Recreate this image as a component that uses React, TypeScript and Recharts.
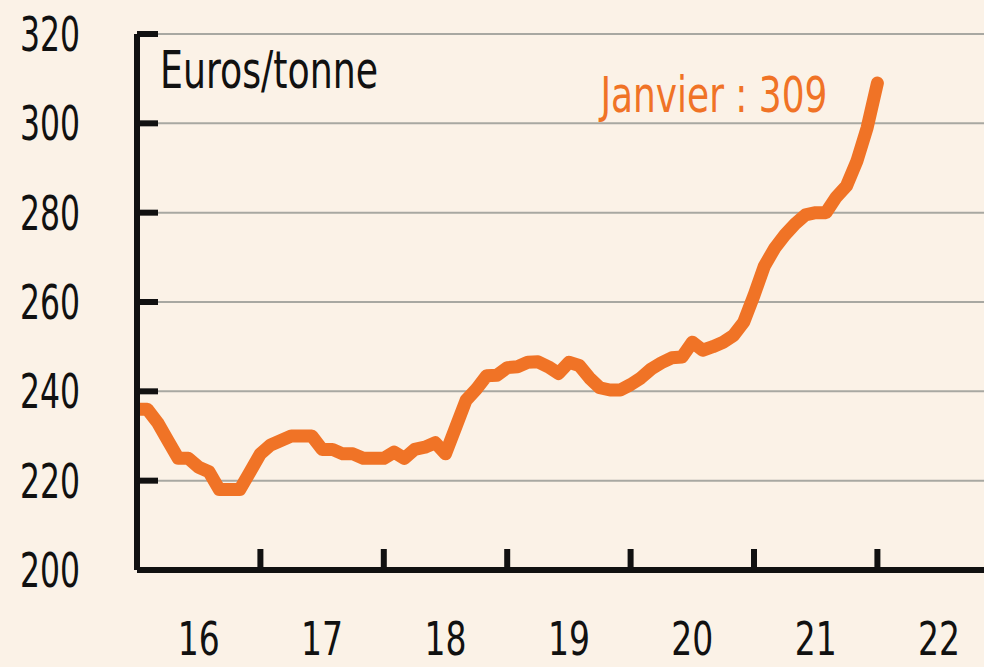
import React from 'react';
import {
  ComposedChart,
  Line,
  XAxis,
  YAxis,
  CartesianGrid,
} from 'recharts';

// Monthly price, Jan 2016 -> Jan 2022 (euros / tonne)
const prices = [
  236, 236, 233, 229, 225, 225, 223, 222, 218, 218, 218, 222,
  226, 228, 229, 230, 230, 230, 227, 227, 226, 226, 225, 225,
  225, 226.4, 225, 227, 227.5, 228.5, 226, 232, 238, 240.5, 243.5, 243.6,
  245.3, 245.5, 246.5, 246.6, 245.5, 244, 246.5, 245.8, 243, 240.8, 240.3, 240.3,
  241.5, 243, 245, 246.4, 247.5, 247.7, 251, 249.2, 250, 251, 252.5, 255.5,
  261.5, 268, 272, 275, 277.5, 279.5, 280, 280, 283.5, 286, 291.5, 299,
  309,
];
const yearLabels = ['16', '17', '18', '19', '20', '21', '22'];
const yTicks = [200, 220, 240, 260, 280, 300, 320];
const unitLabel = 'Euros/tonne';
const lastLabel = 'Janvier : 309';

const W = 984;
const H = 667;
const M = { top: 34, right: 0, bottom: 0, left: 0 };
const X_AXIS_H = 97;
const Y_AXIS_W = 137;
const PLOT_LEFT = M.left + Y_AXIS_W;
const PLOT_BOTTOM = H - M.bottom - X_AXIS_H;
const MONTH_PX = 123.4 / 12;
const X_MAX = (W - M.right - PLOT_LEFT) / MONTH_PX;

const COLORS = {
  bg: '#fbf2e7',
  line: '#f07326',
  ink: '#111111',
  grid: '#a8a8a2',
};
const FONT = '"DejaVu Sans Condensed", "DejaVu Sans", sans-serif';

const data = prices.map((price, month) => ({ month, price }));
const xTicks = yearLabels.flatMap((_, i) => (i === 0 ? [6] : [i * 12, i * 12 + 6]));

// x ticks: mid-year ones carry the label, year boundaries get a mark pointing up
const XTick = (props: any) => {
  const m = props.payload.value as number;
  const x = props.payload.coordinate as number;
  if (m % 12 === 6) {
    return (
      <text x={x} y={PLOT_BOTTOM + 85} textAnchor="middle" fontSize={46} fill={COLORS.ink} fontFamily={FONT}
        textLength={42} lengthAdjust="spacingAndGlyphs">
        {yearLabels[(m - 6) / 12]}
      </text>
    );
  }
  return <line x1={x} x2={x} y1={PLOT_BOTTOM} y2={PLOT_BOTTOM - 21} stroke={COLORS.ink} strokeWidth={6} />;
};

const YTick = (props: any) => {
  const y = props.payload.coordinate as number;
  const v = props.payload.value as number;
  return (
    <g>
      {v !== 200 && <line x1={PLOT_LEFT} x2={PLOT_LEFT + 21} y1={y} y2={y} stroke={COLORS.ink} strokeWidth={6} />}
      <text x={80} y={y + 17} textAnchor="end" fontSize={48} fill={COLORS.ink} fontFamily={FONT}
        textLength={60} lengthAdjust="spacingAndGlyphs">
        {v}
      </text>
    </g>
  );
};

const EndLabel = (props: any) => {
  if (props.index !== prices.length - 1) return null;
  return (
    <text x={props.x - 50} y={112} textAnchor="end" fontSize={49} fill={COLORS.line} fontFamily={FONT}
      textLength={227} lengthAdjust="spacingAndGlyphs">
      {lastLabel}
    </text>
  );
};

export default function App() {
  return (
    <div style={{ width: W, height: H, background: COLORS.bg, position: 'absolute', left: 0, top: 0 }}>
      <style>{'body{margin:0;background:' + COLORS.bg + '}'}</style>
      <ComposedChart width={W} height={H} data={data} margin={M}>
        <CartesianGrid horizontal vertical={false} stroke={COLORS.grid} strokeWidth={2} />
        <XAxis
          dataKey="month"
          type="number"
          domain={[0, X_MAX]}
          ticks={xTicks}
          interval={0}
          height={X_AXIS_H}
          tick={<XTick />}
          tickLine={false}
          axisLine={{ stroke: COLORS.ink, strokeWidth: 6 }}
          allowDataOverflow
        />
        <YAxis
          type="number"
          domain={[200, 320]}
          ticks={yTicks}
          interval={0}
          width={Y_AXIS_W}
          tick={<YTick />}
          tickLine={false}
          axisLine={{ stroke: COLORS.ink, strokeWidth: 6 }}
        />
        <text x={160} y={88} fontSize={52} fill={COLORS.ink} fontFamily={FONT}
          textLength={218} lengthAdjust="spacingAndGlyphs">
          {unitLabel}
        </text>
        <Line
          type="linear"
          dataKey="price"
          stroke={COLORS.line}
          strokeWidth={13}
          strokeLinejoin="round"
          strokeLinecap="round"
          dot={false}
          label={<EndLabel />}
          isAnimationActive={false}
        />
      </ComposedChart>
    </div>
  );
}
